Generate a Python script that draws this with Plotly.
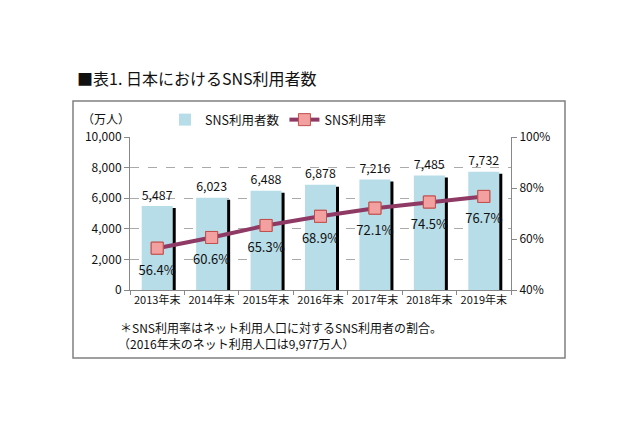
import plotly.graph_objects as go

categories = ["2013年末", "2014年末", "2015年末", "2016年末", "2017年末", "2018年末", "2019年末"]
users = [5487, 6023, 6488, 6878, 7216, 7485, 7732]
rate = [56.4, 60.6, 65.3, 68.9, 72.1, 74.5, 76.7]
user_labels = ["5,487", "6,023", "6,488", "6,878", "7,216", "7,485", "7,732"]
rate_labels = ["56.4%", "60.6%", "65.3%", "68.9%", "72.1%", "74.5%", "76.7%"]

W, H = 640, 426
ML, MR, MT, MB = 130, 129, 137, 136
PW, PH = W - ML - MR, H - MT - MB

def px(x):
    return (x - ML) / PW

def py(y):
    return (H - MB - y) / PH

FONT = "Noto Sans CJK JP, Noto Sans, sans-serif"
BAR_COLOR = "#b7dde8"
LINE_COLOR = "#8e3a64"

# shadow offsets (pixels)
SX, SY = 3, 2
xs = SX / PW * 7
ys_bar = SY / PH * 10000
ys_rate = SY / PH * 60

fig = go.Figure()

# bar shadows (base hidden axes)
fig.add_trace(go.Bar(x=categories, y=users, xaxis="x", yaxis="y",
                     marker=dict(color="#000000", line=dict(width=0)),
                     width=0.57, showlegend=False, hoverinfo="skip"))
# bars
fig.add_trace(go.Bar(x=categories, y=users, xaxis="x2", yaxis="y2", name="SNS利用者数",
                     marker=dict(color=BAR_COLOR, line=dict(width=0)), width=0.57,
                     text=user_labels, textposition="outside", cliponaxis=False,
                     textfont=dict(size=14, color="#111111", family=FONT)))
# line
fig.add_trace(go.Scatter(x=categories, y=rate, xaxis="x2", yaxis="y3", name="SNS利用率",
                         mode="lines+markers",
                         line=dict(color=LINE_COLOR, width=4),
                         marker=dict(symbol="square", size=12, color="#f2a0a0",
                                     line=dict(color="#c0504d", width=1)),
                         cliponaxis=False))
# marker shadows
fig.add_trace(go.Scatter(x=categories, y=rate, xaxis="x", yaxis="y4", mode="markers",
                         marker=dict(symbol="square", size=12, color="#000000"),
                         showlegend=False, hoverinfo="skip", cliponaxis=False))
# markers on top
fig.add_trace(go.Scatter(x=categories, y=rate, xaxis="x2", yaxis="y5", mode="markers",
                         marker=dict(symbol="square", size=12, color="#f2a0a0",
                                     line=dict(color="#c0504d", width=1)),
                         showlegend=False, hoverinfo="skip", cliponaxis=False))
# percentage labels
fig.add_trace(go.Scatter(x=categories, y=rate, xaxis="x2", yaxis="y5", mode="markers+text",
                         marker=dict(symbol="square", size=26, color="rgba(0,0,0,0)"),
                         text=rate_labels, textposition="bottom center",
                         textfont=dict(size=13, color="#111111", family=FONT),
                         showlegend=False, hoverinfo="skip", cliponaxis=False))

fig.update_layout(
    width=W, height=H,
    margin=dict(l=ML, r=MR, t=MT, b=MB, pad=0),
    paper_bgcolor="white", plot_bgcolor="white",
    font=dict(family=FONT, size=12, color="#111111"),
    barmode="overlay", bargap=0.43,
    showlegend=True,
    legend=dict(orientation="h", x=px(165), y=py(120), xanchor="left", yanchor="middle",
                font=dict(size=12.5, family=FONT), bgcolor="rgba(0,0,0,0)",
                itemwidth=30, tracegroupgap=0),
    xaxis=dict(domain=[0, 1], range=[-0.5 - xs, 6.5 - xs], visible=False,
               categoryorder="array", categoryarray=categories),
    yaxis=dict(range=[0 + ys_bar, 10000 + ys_bar], visible=False),
    xaxis2=dict(overlaying="x", anchor="y2", range=[-0.5, 6.5],
                categoryorder="array", categoryarray=categories,
                showline=True, linecolor="#888888", linewidth=1,
                ticks="outside", tickson="boundaries", ticklen=4, tickcolor="#888888",
                tickangle=0, tickfont=dict(size=11, family=FONT), showgrid=False),
    yaxis2=dict(overlaying="y", anchor="x2", side="left", range=[0, 10000], dtick=2000,
                tickformat=",d", showline=True, linecolor="#888888", linewidth=1,
                ticks="outside", ticklen=5, tickcolor="#888888",
                showgrid=True, gridcolor="#aaaaaa", griddash="dash", gridwidth=1,
                zeroline=False, tickfont=dict(size=12, family=FONT)),
    yaxis3=dict(overlaying="y", anchor="x2", side="right", range=[40, 100], dtick=20,
                ticksuffix="%", showline=True, linecolor="#888888", linewidth=1,
                ticks="outside", ticklen=5, tickcolor="#888888", showgrid=False,
                zeroline=False, tickfont=dict(size=12, family=FONT)),
    yaxis4=dict(overlaying="y", range=[40 + ys_rate, 100 + ys_rate], visible=False),
    yaxis5=dict(overlaying="y", range=[40, 100], visible=False),
)

# outer frame
fig.add_shape(type="rect", xref="paper", yref="paper",
              x0=px(73), x1=px(565), y0=py(358), y1=py(101),
              line=dict(color="#808080", width=1.5), fillcolor="rgba(0,0,0,0)", layer="below")

ann = [
    dict(text="■表1. 日本におけるSNS利用者数", x=px(75), y=py(78), size=16),
    dict(text="（万人）", x=px(80), y=py(118), size=12),
    dict(text="＊SNS利用率はネット利用人口に対するSNS利用者の割合。", x=px(118), y=py(327), size=12),
    dict(text="（2016年末のネット利用人口は9,977万人）", x=px(116), y=py(343), size=12),
]
for a in ann:
    fig.add_annotation(text=a["text"], x=a["x"], y=a["y"], xref="paper", yref="paper",
                       xanchor="left", yanchor="middle", showarrow=False,
                       font=dict(size=a["size"], family=FONT, color="#111111"))

fig.write_html("out.html")
